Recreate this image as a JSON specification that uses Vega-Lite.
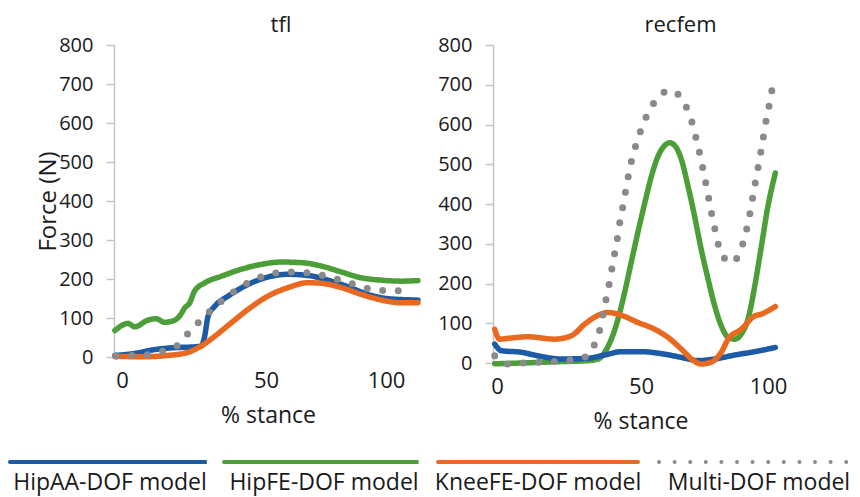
{
  "$schema": "https://vega.github.io/schema/vega-lite/v6.json",
  "background": "white",
  "padding": {"left": 8, "top": 14, "right": 0, "bottom": 2},
  "spacing": 8,
  "config": {
    "font": "Open Sans",
    "view": {"stroke": null},
    "axis": {"grid": false, "labelColor": "#1a1a1a", "titleColor": "#1a1a1a", "labelFont": "Open Sans", "titleFont": "Open Sans", "titleFontWeight": "normal"},
    "title": {"fontSize": 22, "fontWeight": "normal", "color": "#1a1a1a", "baseline": "alphabetic", "offset": -2, "font": "Open Sans"},
    "legend": {"labelFont": "Open Sans"}
  },
  "datasets": {
    "d": [
      {"panel":"tfl","series":"HipFE-DOF model","stance":-2.5,"force":68},
      {"panel":"tfl","series":"HipFE-DOF model","stance":2.1,"force":86},
      {"panel":"tfl","series":"HipFE-DOF model","stance":4.4,"force":77.5},
      {"panel":"tfl","series":"HipFE-DOF model","stance":9,"force":94.5},
      {"panel":"tfl","series":"HipFE-DOF model","stance":11.9,"force":98},
      {"panel":"tfl","series":"HipFE-DOF model","stance":14.8,"force":89},
      {"panel":"tfl","series":"HipFE-DOF model","stance":18.3,"force":94.5},
      {"panel":"tfl","series":"HipFE-DOF model","stance":20,"force":105},
      {"panel":"tfl","series":"HipFE-DOF model","stance":21.8,"force":126},
      {"panel":"tfl","series":"HipFE-DOF model","stance":23.5,"force":139},
      {"panel":"tfl","series":"HipFE-DOF model","stance":25.2,"force":169},
      {"panel":"tfl","series":"HipFE-DOF model","stance":28.7,"force":190},
      {"panel":"tfl","series":"HipFE-DOF model","stance":34.5,"force":207},
      {"panel":"tfl","series":"HipFE-DOF model","stance":41.4,"force":225},
      {"panel":"tfl","series":"HipFE-DOF model","stance":48.4,"force":237.5},
      {"panel":"tfl","series":"HipFE-DOF model","stance":56.4,"force":243.5},
      {"panel":"tfl","series":"HipFE-DOF model","stance":64.7,"force":242},
      {"panel":"tfl","series":"HipFE-DOF model","stance":73.1,"force":233},
      {"panel":"tfl","series":"HipFE-DOF model","stance":81.4,"force":218},
      {"panel":"tfl","series":"HipFE-DOF model","stance":89.7,"force":203},
      {"panel":"tfl","series":"HipFE-DOF model","stance":98.1,"force":197},
      {"panel":"tfl","series":"HipFE-DOF model","stance":106.4,"force":194.5},
      {"panel":"tfl","series":"HipFE-DOF model","stance":113.3,"force":196},

      {"panel":"tfl","series":"HipAA-DOF model","stance":-2.5,"force":4},
      {"panel":"tfl","series":"HipAA-DOF model","stance":4.4,"force":9},
      {"panel":"tfl","series":"HipAA-DOF model","stance":11.4,"force":19},
      {"panel":"tfl","series":"HipAA-DOF model","stance":18.3,"force":24},
      {"panel":"tfl","series":"HipAA-DOF model","stance":25.2,"force":26},
      {"panel":"tfl","series":"HipAA-DOF model","stance":27.5,"force":28},
      {"panel":"tfl","series":"HipAA-DOF model","stance":28.7,"force":53},
      {"panel":"tfl","series":"HipAA-DOF model","stance":29.9,"force":105},
      {"panel":"tfl","series":"HipAA-DOF model","stance":32.2,"force":130},
      {"panel":"tfl","series":"HipAA-DOF model","stance":36.8,"force":156},
      {"panel":"tfl","series":"HipAA-DOF model","stance":43.75,"force":186},
      {"panel":"tfl","series":"HipAA-DOF model","stance":50.8,"force":205},
      {"panel":"tfl","series":"HipAA-DOF model","stance":59.2,"force":212},
      {"panel":"tfl","series":"HipAA-DOF model","stance":67.5,"force":209},
      {"panel":"tfl","series":"HipAA-DOF model","stance":75.8,"force":197},
      {"panel":"tfl","series":"HipAA-DOF model","stance":84.2,"force":180},
      {"panel":"tfl","series":"HipAA-DOF model","stance":92.5,"force":160.5},
      {"panel":"tfl","series":"HipAA-DOF model","stance":100.8,"force":149.5},
      {"panel":"tfl","series":"HipAA-DOF model","stance":113.3,"force":146},

      {"panel":"tfl","series":"KneeFE-DOF model","stance":-2.5,"force":2},
      {"panel":"tfl","series":"KneeFE-DOF model","stance":6.7,"force":0.5},
      {"panel":"tfl","series":"KneeFE-DOF model","stance":16,"force":4},
      {"panel":"tfl","series":"KneeFE-DOF model","stance":22.9,"force":12},
      {"panel":"tfl","series":"KneeFE-DOF model","stance":27.5,"force":28},
      {"panel":"tfl","series":"KneeFE-DOF model","stance":32.2,"force":53},
      {"panel":"tfl","series":"KneeFE-DOF model","stance":38,"force":88},
      {"panel":"tfl","series":"KneeFE-DOF model","stance":43.75,"force":122},
      {"panel":"tfl","series":"KneeFE-DOF model","stance":50.8,"force":156},
      {"panel":"tfl","series":"KneeFE-DOF model","stance":59.2,"force":178},
      {"panel":"tfl","series":"KneeFE-DOF model","stance":67.5,"force":190.5},
      {"panel":"tfl","series":"KneeFE-DOF model","stance":73.1,"force":189},
      {"panel":"tfl","series":"KneeFE-DOF model","stance":81.4,"force":178},
      {"panel":"tfl","series":"KneeFE-DOF model","stance":89.7,"force":160.5},
      {"panel":"tfl","series":"KneeFE-DOF model","stance":98.1,"force":146},
      {"panel":"tfl","series":"KneeFE-DOF model","stance":106.4,"force":139},
      {"panel":"tfl","series":"KneeFE-DOF model","stance":113.3,"force":139},

      {"panel":"tfl","series":"Multi-DOF model","stance":-2,"force":2},
      {"panel":"tfl","series":"Multi-DOF model","stance":3.2,"force":4},
      {"panel":"tfl","series":"Multi-DOF model","stance":8.8,"force":5.5},
      {"panel":"tfl","series":"Multi-DOF model","stance":14.2,"force":15},
      {"panel":"tfl","series":"Multi-DOF model","stance":19.2,"force":29.5},
      {"panel":"tfl","series":"Multi-DOF model","stance":22.9,"force":60},
      {"panel":"tfl","series":"Multi-DOF model","stance":26.6,"force":89},
      {"panel":"tfl","series":"Multi-DOF model","stance":30.8,"force":119},
      {"panel":"tfl","series":"Multi-DOF model","stance":35.1,"force":146},
      {"panel":"tfl","series":"Multi-DOF model","stance":39.3,"force":170},
      {"panel":"tfl","series":"Multi-DOF model","stance":44,"force":191},
      {"panel":"tfl","series":"Multi-DOF model","stance":49,"force":207.5},
      {"panel":"tfl","series":"Multi-DOF model","stance":55.3,"force":216},
      {"panel":"tfl","series":"Multi-DOF model","stance":62,"force":218},
      {"panel":"tfl","series":"Multi-DOF model","stance":68.6,"force":214.5},
      {"panel":"tfl","series":"Multi-DOF model","stance":75.1,"force":207.5},
      {"panel":"tfl","series":"Multi-DOF model","stance":81.4,"force":196.5},
      {"panel":"tfl","series":"Multi-DOF model","stance":87.6,"force":184.5},
      {"panel":"tfl","series":"Multi-DOF model","stance":94.3,"force":173},
      {"panel":"tfl","series":"Multi-DOF model","stance":100.8,"force":170},
      {"panel":"tfl","series":"Multi-DOF model","stance":107.1,"force":170},

      {"panel":"recfem","series":"HipFE-DOF model","stance":-0.8,"force":-2},
      {"panel":"recfem","series":"HipFE-DOF model","stance":8.4,"force":0},
      {"panel":"recfem","series":"HipFE-DOF model","stance":20,"force":3},
      {"panel":"recfem","series":"HipFE-DOF model","stance":31.6,"force":6},
      {"panel":"recfem","series":"HipFE-DOF model","stance":35.1,"force":10},
      {"panel":"recfem","series":"HipFE-DOF model","stance":37.4,"force":27},
      {"panel":"recfem","series":"HipFE-DOF model","stance":39.7,"force":60},
      {"panel":"recfem","series":"HipFE-DOF model","stance":42,"force":110},
      {"panel":"recfem","series":"HipFE-DOF model","stance":44.3,"force":177},
      {"panel":"recfem","series":"HipFE-DOF model","stance":46.6,"force":253},
      {"panel":"recfem","series":"HipFE-DOF model","stance":48.9,"force":328},
      {"panel":"recfem","series":"HipFE-DOF model","stance":51.5,"force":403},
      {"panel":"recfem","series":"HipFE-DOF model","stance":54.1,"force":470},
      {"panel":"recfem","series":"HipFE-DOF model","stance":56.7,"force":520},
      {"panel":"recfem","series":"HipFE-DOF model","stance":59.3,"force":547},
      {"panel":"recfem","series":"HipFE-DOF model","stance":61.3,"force":554},
      {"panel":"recfem","series":"HipFE-DOF model","stance":63.3,"force":547},
      {"panel":"recfem","series":"HipFE-DOF model","stance":65.9,"force":512},
      {"panel":"recfem","series":"HipFE-DOF model","stance":68.5,"force":445},
      {"panel":"recfem","series":"HipFE-DOF model","stance":71.1,"force":369.5},
      {"panel":"recfem","series":"HipFE-DOF model","stance":73.7,"force":286},
      {"panel":"recfem","series":"HipFE-DOF model","stance":76.4,"force":211},
      {"panel":"recfem","series":"HipFE-DOF model","stance":79,"force":144},
      {"panel":"recfem","series":"HipFE-DOF model","stance":81.6,"force":93.5},
      {"panel":"recfem","series":"HipFE-DOF model","stance":84.3,"force":64.5},
      {"panel":"recfem","series":"HipFE-DOF model","stance":86.9,"force":60},
      {"panel":"recfem","series":"HipFE-DOF model","stance":89.5,"force":73},
      {"panel":"recfem","series":"HipFE-DOF model","stance":92.1,"force":110},
      {"panel":"recfem","series":"HipFE-DOF model","stance":94.8,"force":194},
      {"panel":"recfem","series":"HipFE-DOF model","stance":97.4,"force":294},
      {"panel":"recfem","series":"HipFE-DOF model","stance":100,"force":395},
      {"panel":"recfem","series":"HipFE-DOF model","stance":102.9,"force":478},

      {"panel":"recfem","series":"HipAA-DOF model","stance":-0.8,"force":47.7},
      {"panel":"recfem","series":"HipAA-DOF model","stance":1.5,"force":31},
      {"panel":"recfem","series":"HipAA-DOF model","stance":8.4,"force":27},
      {"panel":"recfem","series":"HipAA-DOF model","stance":14.2,"force":18},
      {"panel":"recfem","series":"HipAA-DOF model","stance":22.3,"force":10},
      {"panel":"recfem","series":"HipAA-DOF model","stance":31.6,"force":12},
      {"panel":"recfem","series":"HipAA-DOF model","stance":37.4,"force":20},
      {"panel":"recfem","series":"HipAA-DOF model","stance":43.2,"force":28.5},
      {"panel":"recfem","series":"HipAA-DOF model","stance":50.1,"force":28.5},
      {"panel":"recfem","series":"HipAA-DOF model","stance":58,"force":23.5},
      {"panel":"recfem","series":"HipAA-DOF model","stance":65.9,"force":14},
      {"panel":"recfem","series":"HipAA-DOF model","stance":72.4,"force":6},
      {"panel":"recfem","series":"HipAA-DOF model","stance":79,"force":10},
      {"panel":"recfem","series":"HipAA-DOF model","stance":86.9,"force":20},
      {"panel":"recfem","series":"HipAA-DOF model","stance":94.8,"force":28.5},
      {"panel":"recfem","series":"HipAA-DOF model","stance":102.9,"force":39},

      {"panel":"recfem","series":"KneeFE-DOF model","stance":-0.8,"force":85},
      {"panel":"recfem","series":"KneeFE-DOF model","stance":0.9,"force":60},
      {"panel":"recfem","series":"KneeFE-DOF model","stance":3.8,"force":62},
      {"panel":"recfem","series":"KneeFE-DOF model","stance":10.8,"force":66},
      {"panel":"recfem","series":"KneeFE-DOF model","stance":20,"force":60},
      {"panel":"recfem","series":"KneeFE-DOF model","stance":25.8,"force":68.5},
      {"panel":"recfem","series":"KneeFE-DOF model","stance":30.5,"force":98},
      {"panel":"recfem","series":"KneeFE-DOF model","stance":35.1,"force":120},
      {"panel":"recfem","series":"KneeFE-DOF model","stance":38.5,"force":127},
      {"panel":"recfem","series":"KneeFE-DOF model","stance":43.2,"force":120},
      {"panel":"recfem","series":"KneeFE-DOF model","stance":48.9,"force":102},
      {"panel":"recfem","series":"KneeFE-DOF model","stance":55.4,"force":85},
      {"panel":"recfem","series":"KneeFE-DOF model","stance":60.6,"force":64.5},
      {"panel":"recfem","series":"KneeFE-DOF model","stance":65.9,"force":35},
      {"panel":"recfem","series":"KneeFE-DOF model","stance":69.9,"force":10},
      {"panel":"recfem","series":"KneeFE-DOF model","stance":73.7,"force":-2.5},
      {"panel":"recfem","series":"KneeFE-DOF model","stance":77.6,"force":2},
      {"panel":"recfem","series":"KneeFE-DOF model","stance":81.6,"force":27},
      {"panel":"recfem","series":"KneeFE-DOF model","stance":84.3,"force":60},
      {"panel":"recfem","series":"KneeFE-DOF model","stance":89.5,"force":85},
      {"panel":"recfem","series":"KneeFE-DOF model","stance":94.8,"force":118.5},
      {"panel":"recfem","series":"KneeFE-DOF model","stance":97.4,"force":123},
      {"panel":"recfem","series":"KneeFE-DOF model","stance":100,"force":131},
      {"panel":"recfem","series":"KneeFE-DOF model","stance":102.9,"force":142},

      {"panel":"recfem","series":"Multi-DOF model","stance":-0.8,"force":18},
      {"panel":"recfem","series":"Multi-DOF model","stance":3.6,"force":-2.5},
      {"panel":"recfem","series":"Multi-DOF model","stance":9,"force":0},
      {"panel":"recfem","series":"Multi-DOF model","stance":14.5,"force":2},
      {"panel":"recfem","series":"Multi-DOF model","stance":20,"force":4},
      {"panel":"recfem","series":"Multi-DOF model","stance":25.6,"force":7.5},
      {"panel":"recfem","series":"Multi-DOF model","stance":31,"force":16},
      {"panel":"recfem","series":"Multi-DOF model","stance":33.9,"force":47.5},
      {"panel":"recfem","series":"Multi-DOF model","stance":35.8,"force":87},
      {"panel":"recfem","series":"Multi-DOF model","stance":36.9,"force":125},
      {"panel":"recfem","series":"Multi-DOF model","stance":38,"force":165},
      {"panel":"recfem","series":"Multi-DOF model","stance":39.1,"force":204},
      {"panel":"recfem","series":"Multi-DOF model","stance":40,"force":241.5},
      {"panel":"recfem","series":"Multi-DOF model","stance":41,"force":282},
      {"panel":"recfem","series":"Multi-DOF model","stance":42,"force":322},
      {"panel":"recfem","series":"Multi-DOF model","stance":42.8,"force":361},
      {"panel":"recfem","series":"Multi-DOF model","stance":43.9,"force":400.5},
      {"panel":"recfem","series":"Multi-DOF model","stance":44.8,"force":438},
      {"panel":"recfem","series":"Multi-DOF model","stance":45.8,"force":478},
      {"panel":"recfem","series":"Multi-DOF model","stance":47,"force":517},
      {"panel":"recfem","series":"Multi-DOF model","stance":48.6,"force":556},
      {"panel":"recfem","series":"Multi-DOF model","stance":50.4,"force":594},
      {"panel":"recfem","series":"Multi-DOF model","stance":52.9,"force":630.5},
      {"panel":"recfem","series":"Multi-DOF model","stance":56.2,"force":664},
      {"panel":"recfem","series":"Multi-DOF model","stance":61.3,"force":686},
      {"panel":"recfem","series":"Multi-DOF model","stance":66.1,"force":664},
      {"panel":"recfem","series":"Multi-DOF model","stance":68.8,"force":629},
      {"panel":"recfem","series":"Multi-DOF model","stance":70.8,"force":589.5},
      {"panel":"recfem","series":"Multi-DOF model","stance":72.2,"force":551},
      {"panel":"recfem","series":"Multi-DOF model","stance":73.6,"force":513.5},
      {"panel":"recfem","series":"Multi-DOF model","stance":74.8,"force":474},
      {"panel":"recfem","series":"Multi-DOF model","stance":76.1,"force":434},
      {"panel":"recfem","series":"Multi-DOF model","stance":77.2,"force":394.5},
      {"panel":"recfem","series":"Multi-DOF model","stance":78.5,"force":355.5},
      {"panel":"recfem","series":"Multi-DOF model","stance":79.8,"force":315},
      {"panel":"recfem","series":"Multi-DOF model","stance":81.4,"force":279},
      {"panel":"recfem","series":"Multi-DOF model","stance":85.4,"force":252.5},
      {"panel":"recfem","series":"Multi-DOF model","stance":89.3,"force":284},
      {"panel":"recfem","series":"Multi-DOF model","stance":91,"force":322},
      {"panel":"recfem","series":"Multi-DOF model","stance":92.4,"force":359.5},
      {"panel":"recfem","series":"Multi-DOF model","stance":93.5,"force":399},
      {"panel":"recfem","series":"Multi-DOF model","stance":94.6,"force":439},
      {"panel":"recfem","series":"Multi-DOF model","stance":95.7,"force":478},
      {"panel":"recfem","series":"Multi-DOF model","stance":96.8,"force":517.5},
      {"panel":"recfem","series":"Multi-DOF model","stance":97.9,"force":557},
      {"panel":"recfem","series":"Multi-DOF model","stance":98.8,"force":595},
      {"panel":"recfem","series":"Multi-DOF model","stance":100.1,"force":635.5},
      {"panel":"recfem","series":"Multi-DOF model","stance":101.2,"force":675},
      {"panel":"recfem","series":"Multi-DOF model","stance":102.4,"force":714}
    ]
  },
  "data": {"name": "d"},
  "hconcat": [
    {
      "title": {"text": "tfl", "dx": 13},
      "width": 308,
      "height": 312,
      "transform": [{"filter": "datum.panel === 'tfl'"}],
      "encoding": {
        "x": {"field": "stance", "type": "quantitative",
          "scale": {"domain": [-2.8, 0, 50, 100, 115], "range": [0, 8, 152, 272, 308], "nice": false, "zero": false},
          "axis": {"values": [0, 50, 100], "domain": false, "ticks": false, "labelPadding": 13, "labelFontSize": 22, "title": "% stance", "titleFontSize": 23, "titlePadding": 13}},
        "y": {"field": "force", "type": "quantitative",
          "scale": {"domain": [0, 800], "nice": false},
          "axis": {"values": [0, 100, 200, 300, 400, 500, 600, 700, 800], "domainColor": "#c4c4c4", "domainWidth": 1.5, "tickColor": "#c4c4c4", "tickWidth": 1.5, "tickSize": 8, "labelPadding": 13, "labelFontSize": 20, "title": "Force (N)", "titleFontSize": 24, "titlePadding": -2}},
        "color": {"field": "series", "type": "nominal",
          "scale": {"domain": ["HipAA-DOF model", "HipFE-DOF model", "KneeFE-DOF model", "Multi-DOF model"], "range": ["#1d5ba6", "#4c9f38", "#e8691f", "#8a8a8a"]},
          "legend": {"title": null, "orient": "none", "legendX": -106, "legendY": 407, "direction": "horizontal", "symbolType": "stroke", "symbolSize": 40000, "symbolStrokeWidth": 4, "clipHeight": 20, "labelAlign": "center", "labelBaseline": "top", "labelOffset": -102, "labelFontSize": 23, "labelLimit": 400, "labelColor": "#1a1a1a", "columnPadding": 15, "padding": 0,
            "encoding": {"symbols": {"strokeCap": {"value": "round"}, "strokeWidth": {"value": 4}}, "labels": {"dy": {"value": 10}}}}},
        "strokeDash": {"field": "series", "type": "nominal",
          "scale": {"domain": ["HipAA-DOF model", "HipFE-DOF model", "KneeFE-DOF model", "Multi-DOF model"], "range": [[1, 0], [1, 0], [1, 0], [0, 15.6]]}}
      },
      "layer": [
        {"transform": [{"filter": "datum.series !== 'Multi-DOF model'"}], "mark": {"type": "line", "strokeWidth": 5.5, "interpolate": "monotone", "strokeCap": "round"}},
        {"transform": [{"filter": "datum.series === 'Multi-DOF model'"}], "mark": {"type": "line", "strokeWidth": 7, "interpolate": "monotone", "strokeCap": "round"}}
      ]
    },
    {
      "title": {"text": "recfem", "dx": 40},
      "width": 295,
      "height": 318,
      "transform": [{"filter": "datum.panel === 'recfem'"}],
      "encoding": {
        "x": {"field": "stance", "type": "quantitative",
          "scale": {"domain": [-1.4, 0, 50, 100, 107.9], "range": [0, 4, 148, 275, 295], "nice": false, "zero": false},
          "axis": {"values": [0, 50, 100], "domain": false, "ticks": false, "labelPadding": 13, "labelFontSize": 22, "title": "% stance", "titleFontSize": 23, "titlePadding": 13}},
        "y": {"field": "force", "type": "quantitative",
          "scale": {"domain": [0, 800], "nice": false},
          "axis": {"values": [0, 100, 200, 300, 400, 500, 600, 700, 800], "domainColor": "#c4c4c4", "domainWidth": 1.5, "tickColor": "#c4c4c4", "tickWidth": 1.5, "tickSize": 8, "labelPadding": 13, "labelFontSize": 20, "title": null}},
        "color": {"field": "series", "type": "nominal",
          "scale": {"domain": ["HipAA-DOF model", "HipFE-DOF model", "KneeFE-DOF model", "Multi-DOF model"], "range": ["#1d5ba6", "#4c9f38", "#e8691f", "#8a8a8a"]},
          "legend": {"title": null, "orient": "none", "legendX": -106, "legendY": 407, "direction": "horizontal", "symbolType": "stroke", "symbolSize": 40000, "symbolStrokeWidth": 4, "clipHeight": 20, "labelAlign": "center", "labelBaseline": "top", "labelOffset": -102, "labelFontSize": 23, "labelLimit": 400, "labelColor": "#1a1a1a", "columnPadding": 15, "padding": 0,
            "encoding": {"symbols": {"strokeCap": {"value": "round"}, "strokeWidth": {"value": 4}}, "labels": {"dy": {"value": 10}}}}},
        "strokeDash": {"field": "series", "type": "nominal",
          "scale": {"domain": ["HipAA-DOF model", "HipFE-DOF model", "KneeFE-DOF model", "Multi-DOF model"], "range": [[1, 0], [1, 0], [1, 0], [0, 15.6]]}}
      },
      "layer": [
        {"transform": [{"filter": "datum.series !== 'Multi-DOF model'"}], "mark": {"type": "line", "strokeWidth": 5.5, "interpolate": "monotone", "strokeCap": "round"}},
        {"transform": [{"filter": "datum.series === 'Multi-DOF model'"}], "mark": {"type": "line", "strokeWidth": 7, "interpolate": "monotone", "strokeCap": "round"}}
      ]
    }
  ]
}
